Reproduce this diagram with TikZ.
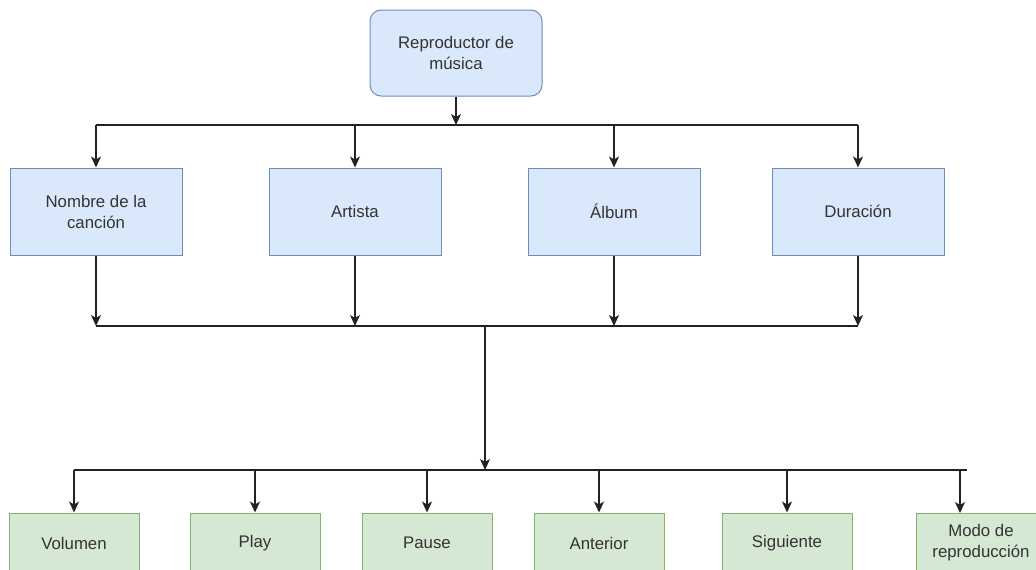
\documentclass[tikz,border=0pt]{standalone}
\usepackage{fontspec}
\setmainfont{Liberation Sans}
\usetikzlibrary{arrows.meta}
\definecolor{bluefill}{HTML}{DAE8FC}
\definecolor{bluedraw}{HTML}{6C8EBF}
\definecolor{greenfill}{HTML}{D5E8D4}
\definecolor{greendraw}{HTML}{82B366}
\definecolor{txt}{HTML}{333333}
\definecolor{wire}{HTML}{222222}
\tikzset{
  box/.style={draw, line width=1pt, align=center, text=txt, inner sep=2pt,
    font=\fontsize{16.8}{21}\selectfont},
  bluebox/.style={box, fill=bluefill, draw=bluedraw, minimum width=172pt, minimum height=87pt},
  rootbox/.style={bluebox, rounded corners=11pt, minimum height=86pt},
  greenbox/.style={box, fill=greenfill, draw=greendraw, minimum width=130pt, minimum height=60pt},
  bus/.style={draw=wire, line width=1.3pt},
  arr/.style={draw=wire, line width=1.3pt, -{Stealth[length=11pt,width=10pt,inset=3pt]}}
}
\begin{document}
\begin{tikzpicture}[x=1pt,y=-1pt]
\useasboundingbox (0,0) rectangle (1036,570);
\clip (0,0) rectangle (1036,570);
\fill[white] (0,0) rectangle (1036,570);

% root
\node[rootbox] (root) at (456,53) {Reproductor de\\música};

% song attributes
\node[bluebox] (nombre)   at (96,211.5)  {Nombre de la\\canción};
\node[bluebox] (artista)  at (355,211.5) {Artista};
\node[bluebox] (album)    at (614,211.5) {Álbum};
\node[bluebox] (duracion) at (858,211.5) {Duración};

% controls
\node[greenbox] (volumen)   at (74,543)  {Volumen};
\node[greenbox] (play)      at (255,543) {Play};
\node[greenbox] (pause)     at (427,543) {Pause};
\node[greenbox] (anterior)  at (599,543) {Anterior};
\node[greenbox] (siguiente) at (787,543) {Siguiente};
\node[greenbox] (modo)      at (981,543) {Modo de\\reproducción};

% bus lines
\coordinate (busA) at (456,125);
\coordinate (busB) at (485,326);
\coordinate (busC) at (485,470);
\coordinate (busCend) at (967,470);
\coordinate (modoIn) at (960,513);

\draw[arr] (root) -- (busA);
\draw[bus] (nombre|-busA) -- (duracion|-busA);
\foreach \n in {nombre,artista,album,duracion}
  \draw[arr] (\n|-busA) -- (\n);

\foreach \n in {nombre,artista,album,duracion}
  \draw[arr] (\n) -- (\n|-busB);
\draw[bus] (nombre|-busB) -- (duracion|-busB);

\draw[arr] (busB) -- (busC);
\draw[bus] (volumen|-busC) -- (busCend);
\foreach \n in {volumen,play,pause,anterior,siguiente}
  \draw[arr] (\n|-busC) -- (\n);
\draw[arr] (modoIn|-busC) -- (modoIn);
\end{tikzpicture}
\end{document}
